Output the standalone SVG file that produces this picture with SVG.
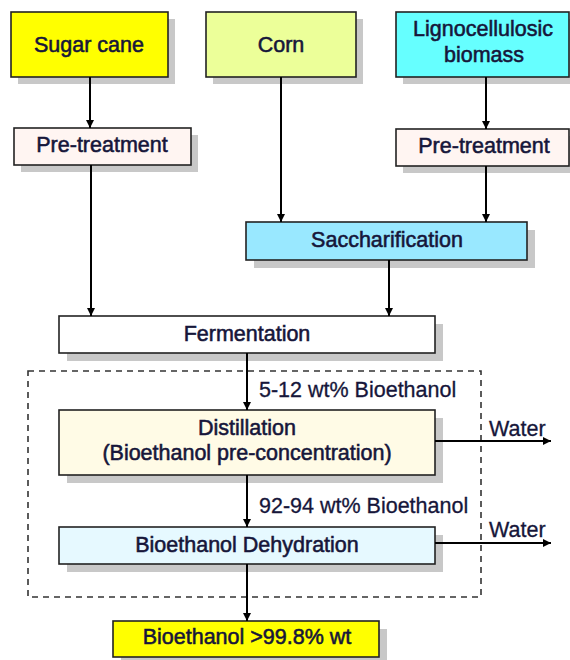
<svg xmlns="http://www.w3.org/2000/svg" width="570" height="660" viewBox="0 0 570 660">
<defs>
<style>
.box{stroke:#222;stroke-width:1.6}
.sh{fill:#c8c8c8}
text{font-family:"Liberation Sans",Arial,sans-serif;font-size:21.5px;fill:#16163a;stroke:#16163a;stroke-width:0.3}
.c{text-anchor:middle}
.t{stroke-width:0.55}
.ln{stroke:#000;stroke-width:2;fill:none}
</style>
<marker id="ah" viewBox="0 0 10 10" refX="10" refY="5" markerWidth="4.2" markerHeight="4.5" orient="auto" markerUnits="strokeWidth">
<path d="M0,0 L10,5 L0,10 Z" fill="#000"/>
</marker>
</defs>
<rect width="570" height="660" fill="#fff"/>

<g id="sugar-cane">
<rect class="sh" x="18" y="19" width="157" height="65"/>
<rect class="box" x="11" y="12" width="157" height="65" fill="#ffff00"/>
<text class="c t" x="89" y="52">Sugar cane</text>
</g>
<g id="corn">
<rect class="sh" x="213" y="19" width="150" height="65"/>
<rect class="box" x="206" y="12" width="150" height="65" fill="#ecff99"/>
<text class="c t" x="281" y="52">Corn</text>
</g>
<g id="lignocellulosic">
<rect class="sh" x="403" y="19" width="175" height="65"/>
<rect class="box" x="396" y="12" width="173" height="65" fill="#66ffff"/>
<text class="c t" x="483" y="36">Lignocellulosic</text>
<text class="c t" x="484" y="62">biomass</text>
</g>
<g id="pretreatment-left">
<rect class="sh" x="21" y="135" width="177" height="37"/>
<rect class="box" x="14" y="128" width="177" height="37" fill="#fff5f2"/>
<text class="c t" x="102" y="152">Pre-treatment</text>
</g>
<g id="pretreatment-right">
<rect class="sh" x="403" y="136" width="175" height="37"/>
<rect class="box" x="396" y="129" width="173" height="37" fill="#fff5f2"/>
<text class="c t" x="484" y="153">Pre-treatment</text>
</g>
<g id="saccharification">
<rect class="sh" x="254" y="230" width="281" height="38"/>
<rect class="box" x="246" y="222" width="281" height="38" fill="#99e8ff"/>
<text class="c t" x="387" y="247">Saccharification</text>
</g>
<g id="fermentation">
<rect class="sh" x="67" y="324" width="376" height="37"/>
<rect class="box" x="59" y="316" width="376" height="37" fill="#ffffff"/>
<text class="c t" x="247" y="341">Fermentation</text>
</g>
<g id="process-boundary">
<rect x="28" y="371" width="453" height="226" fill="none" stroke="#333" stroke-width="1.6" stroke-dasharray="6,5"/>
</g>
<g id="distillation">
<rect class="sh" x="67" y="418" width="376" height="65"/>
<rect class="box" x="59" y="410" width="376" height="65" fill="#fffbe6"/>
<text class="c t" x="247" y="435">Distillation</text>
<text class="c t" x="247" y="460">(Bioethanol pre-concentration)</text>
</g>
<g id="dehydration">
<rect class="sh" x="67" y="535" width="376" height="37"/>
<rect class="box" x="59" y="527" width="376" height="37" fill="#e6f9ff"/>
<text class="c t" x="247" y="552">Bioethanol Dehydration</text>
</g>
<g id="product">
<rect class="sh" x="121" y="629" width="266" height="36"/>
<rect class="box" x="113" y="621" width="266" height="36" fill="#ffff00"/>
<text class="c t" x="247" y="644">Bioethanol &gt;99.8% wt</text>
</g>

<g id="connectors">
<line class="ln" x1="90" y1="77" x2="90" y2="128" marker-end="url(#ah)"/>
<line class="ln" x1="91" y1="165" x2="91" y2="316" marker-end="url(#ah)"/>
<line class="ln" x1="281" y1="77" x2="281" y2="222" marker-end="url(#ah)"/>
<line class="ln" x1="486" y1="77" x2="486" y2="129" marker-end="url(#ah)"/>
<line class="ln" x1="486" y1="166" x2="486" y2="222" marker-end="url(#ah)"/>
<line class="ln" x1="389" y1="260" x2="389" y2="316" marker-end="url(#ah)"/>
<line class="ln" x1="247" y1="353" x2="247" y2="410" marker-end="url(#ah)"/>
<line class="ln" x1="247" y1="475" x2="247" y2="527" marker-end="url(#ah)"/>
<line class="ln" x1="247" y1="564" x2="247" y2="621" marker-end="url(#ah)"/>
<line class="ln" x1="435" y1="441" x2="551" y2="441" marker-end="url(#ah)"/>
<line class="ln" x1="435" y1="543" x2="551" y2="543" marker-end="url(#ah)"/>
<text x="259" y="397">5-12 wt% Bioethanol</text>
<text x="259" y="513">92-94 wt% Bioethanol</text>
<text x="489" y="436">Water</text>
<text x="489" y="537">Water</text>
</g>
</svg>
